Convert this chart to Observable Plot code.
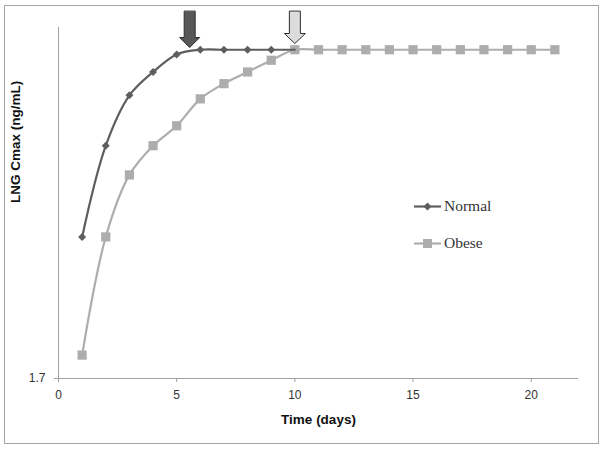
<!DOCTYPE html>
<html>
<head>
<meta charset="utf-8">
<script src="https://cdn.jsdelivr.net/npm/d3@7"></script>
<script src="https://cdn.jsdelivr.net/npm/@observablehq/plot@0.6"></script>
<style>
  html, body { margin: 0; padding: 0; background: #fff; }
  #wrap { position: relative; width: 604px; height: 449px; overflow: hidden; }
  #border { position: absolute; left: 4px; top: 5px; width: 593px; height: 437px; border: 1px solid #a6a6a6; pointer-events: none; }
  #chart { position: absolute; left: 0; top: 0; }
  #legend { position: absolute; left: 414px; top: 196px; font-family: "Liberation Serif", "Times New Roman", serif; font-size: 15.5px; color: #333; }
  .item { display: flex; align-items: center; height: 20px; margin-bottom: 17px; }
  .item svg { margin-right: 2px; }
</style>
</head>
<body>
<div id="wrap">
  <div id="chart"></div>
  <div id="border"></div>
  <div id="legend"></div>
</div>
<script>
// ---- data ----
const normalDays = [1, 2, 3, 4, 5, 6, 7, 8, 9, 10];
const normalValues = [1.821, 1.899, 1.942, 1.962, 1.977, 1.981, 1.981, 1.981, 1.981, 1.981];
const obeseDays = [1, 2, 3, 4, 5, 6, 7, 8, 9, 10, 11, 12, 13, 14, 15, 16, 17, 18, 19, 20, 21];
const obeseValues = [1.720, 1.821, 1.874, 1.899, 1.916, 1.939, 1.952, 1.962, 1.972, 1.981,
  1.981, 1.981, 1.981, 1.981, 1.981, 1.981, 1.981, 1.981, 1.981, 1.981, 1.981];
const xTicks = [0, 5, 10, 15, 20];
const yTicks = [1.7];
const arrowNormalDay = [5.55];
const arrowObeseDay = [10];
const seriesNames = ["Normal", "Obese"];
const xLabel = "Time (days)";
const yLabel = "LNG Cmax (ng/mL)";

const normal = normalDays.map((d, i) => ({day: d, v: normalValues[i]}));
const obese = obeseDays.map((d, i) => ({day: d, v: obeseValues[i]}));

const cNormal = "#5e5e5e";
const cObese = "#adadad";

function blockArrow(shaftHalf, headHalf, headLen) {
  return {
    draw(context, l) {
      context.moveTo(-shaftHalf, 0);
      context.lineTo(-shaftHalf, -(l - headLen));
      context.lineTo(-headHalf, -(l - headLen));
      context.lineTo(0, -l);
      context.lineTo(headHalf, -(l - headLen));
      context.lineTo(shaftHalf, -(l - headLen));
      context.lineTo(shaftHalf, 0);
      context.closePath();
    }
  };
}

const chart = Plot.plot({
  width: 604,
  height: 449,
  marginLeft: 58,
  marginRight: 26,
  marginTop: 27,
  marginBottom: 71,
  style: {fontFamily: "Arial, 'Liberation Sans', sans-serif", fontSize: "12px", background: "transparent"},
  x: {domain: [0, 22]},
  y: {domain: [1.7, 2.0]},
  marks: [
    Plot.ruleY([1.7], {stroke: "#a0a0a0"}),
    Plot.ruleX([0], {stroke: "#a0a0a0"}),
    Plot.axisX({ticks: xTicks, tickSize: 4, tickPadding: 8, tickFormat: d => String(d), label: null, stroke: "#a0a0a0", fill: "#333"}),
    Plot.axisY({ticks: yTicks, tickSize: 4, tickPadding: 9, tickFormat: d => d.toFixed(1), label: null, stroke: "#a0a0a0", fill: "#333"}),
    Plot.line(obese, {x: "day", y: "v", stroke: cObese, strokeWidth: 2.2, curve: "catmull-rom"}),
    Plot.dot(obese, {x: "day", y: "v", symbol: "square", r: 5.2, fill: cObese, stroke: "none"}),
    Plot.line(normal, {x: "day", y: "v", stroke: cNormal, strokeWidth: 2.2, curve: "catmull-rom"}),
    Plot.dot(normal.filter(d => d.day < 10), {x: "day", y: "v", symbol: "diamond2", r: 3.6, fill: cNormal, stroke: "none"}),
    Plot.vector(arrowNormalDay, {x: d => d, frameAnchor: "top", anchor: "start", rotate: 180, length: 36, dy: -16,
      shape: blockArrow(5.5, 10, 10), fill: "#585858", stroke: "#2e2e2e", strokeWidth: 1}),
    Plot.vector(arrowObeseDay, {x: d => d, frameAnchor: "top", anchor: "start", rotate: 180, length: 32, dy: -16,
      shape: blockArrow(5.5, 10.5, 10), fill: "#dcdcdc", stroke: "#2e2e2e", strokeWidth: 1}),
    Plot.text([xLabel], {frameAnchor: "bottom", dy: 45, text: d => d, fontWeight: "bold", fontSize: 13.5, fill: "#111"}),
    Plot.text([yLabel], {frameAnchor: "left", dx: -43, rotate: -90, text: d => d, fontWeight: "bold", fontSize: 13.5, fill: "#111"})
  ]
});
document.getElementById("chart").appendChild(chart);

// legend
const legend = document.getElementById("legend");
const legendSpecs = [
  {name: seriesNames[0], color: cNormal, marker: "diamond"},
  {name: seriesNames[1], color: cObese, marker: "square"}
];
for (const s of legendSpecs) {
  const item = document.createElement("div");
  item.className = "item";
  const m = s.marker === "diamond"
    ? `<path d="M13.5 6.5 l4 4 l-4 4 l-4 -4 z" fill="${s.color}"/>`
    : `<rect x="9" y="6" width="9" height="9" fill="${s.color}"/>`;
  item.innerHTML = `<svg width="28" height="20"><line x1="0" x2="27" y1="10.5" y2="10.5" stroke="${s.color}" stroke-width="2.2"/>${m}</svg><span>${s.name}</span>`;
  legend.appendChild(item);
}
</script>
</body>
</html>
